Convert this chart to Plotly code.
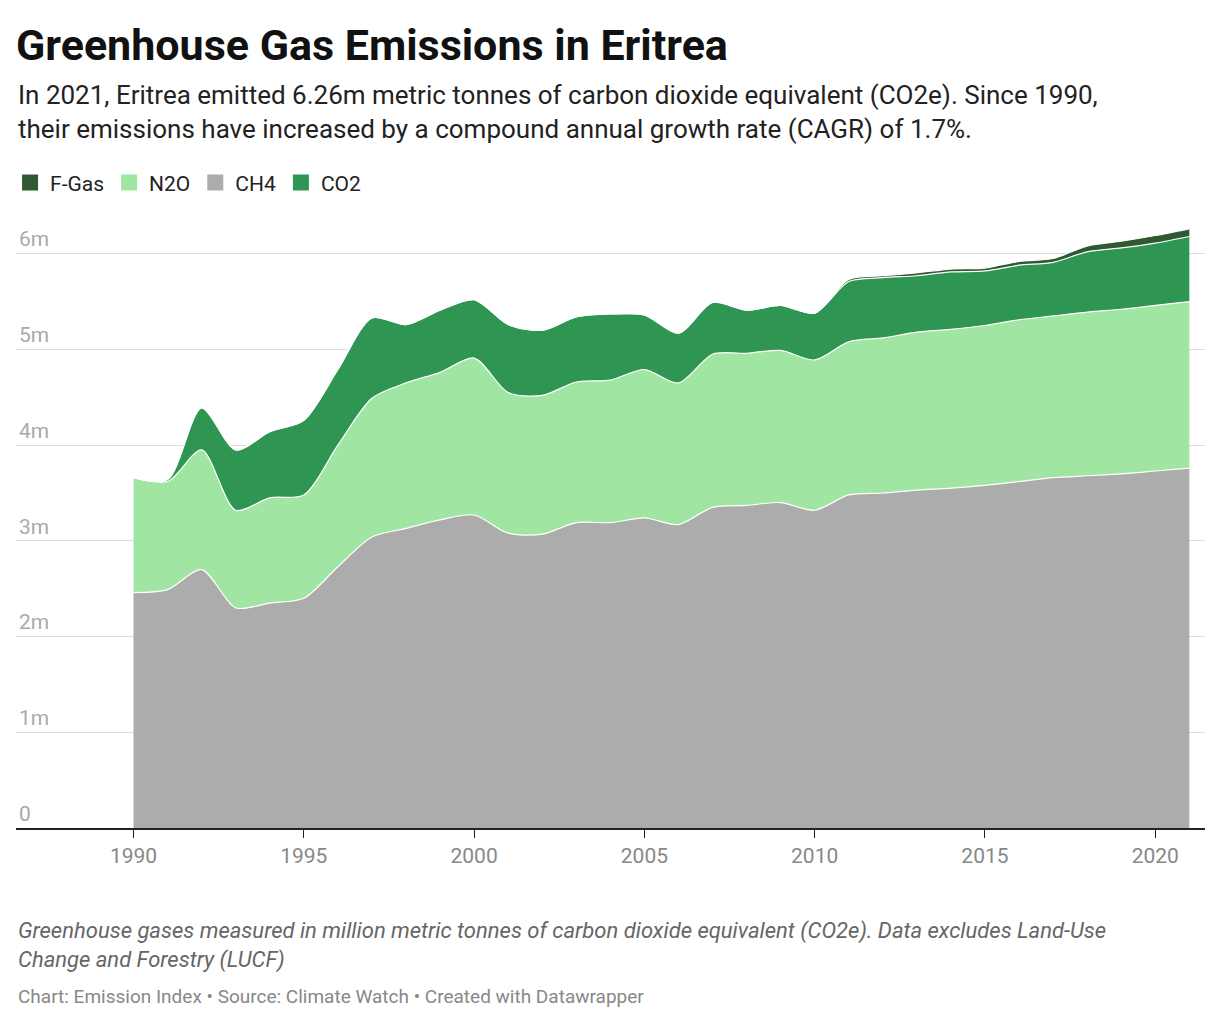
import plotly.graph_objects as go

years = list(range(1990, 2022))
ch4 = [2.46, 2.49, 2.70, 2.30, 2.35, 2.40, 2.73, 3.04, 3.13, 3.22, 3.27, 3.08, 3.07, 3.19, 3.19, 3.24,
       3.17, 3.35, 3.37, 3.40, 3.32, 3.48, 3.50, 3.53, 3.55, 3.58, 3.62, 3.66, 3.68, 3.70, 3.73, 3.76]
n2o = [1.20, 1.13, 1.25, 1.02, 1.10, 1.08, 1.27, 1.45, 1.52, 1.54, 1.64, 1.47, 1.45, 1.47, 1.49, 1.55,
       1.48, 1.60, 1.59, 1.59, 1.57, 1.60, 1.62, 1.65, 1.66, 1.67, 1.69, 1.69, 1.71, 1.72, 1.73, 1.74]
co2 = [0.00, 0.02, 0.44, 0.63, 0.69, 0.78, 0.79, 0.84, 0.61, 0.65, 0.61, 0.71, 0.68, 0.68, 0.69, 0.57,
       0.52, 0.54, 0.45, 0.47, 0.49, 0.63, 0.63, 0.59, 0.60, 0.57, 0.57, 0.56, 0.63, 0.64, 0.65, 0.68]
fgas = [0.0] * 21 + [0.02, 0.02, 0.03, 0.03, 0.03, 0.04, 0.04, 0.06, 0.07, 0.08, 0.08]

series = [
    ("CH4", ch4, "#acacac", 2),
    ("N2O", n2o, "#a0e6a2", 3),
    ("CO2", co2, "#2e9553", 1),
    ("F-Gas", fgas, "#2f5932", 4),
]

fig = go.Figure()
for name, vals, color, rank in series:
    fig.add_trace(go.Scatter(
        x=years, y=vals, name=name, stackgroup="one", mode="lines",
        line=dict(color="white", width=1.2, shape="spline", smoothing=0.8),
        fillcolor=color, showlegend=False,
    ))
# square legend swatches
for name, vals, color, rank in series:
    fig.add_trace(go.Scatter(
        x=[None], y=[None], name=name, mode="markers", legendrank=rank,
        marker=dict(symbol="square", size=26, color=color),
    ))

fig.update_layout(
    width=1220, height=1022,
    margin=dict(l=2, r=23, t=217, b=202),
    paper_bgcolor="white", plot_bgcolor="white",
    font=dict(family="Roboto", size=21, color="#333"),
    legend=dict(orientation="h", x=-0.005, xanchor="left", y=1.07, yanchor="middle",
                font=dict(size=21, color="#222"), itemwidth=30),
    xaxis=dict(range=[1986.55, 2021.46], tickvals=[1990, 1995, 2000, 2005, 2010, 2015, 2020],
               showgrid=False, showline=True, linecolor="#222", linewidth=1.5,
               ticks="outside", ticklen=8, tickcolor="#222",
               tickfont=dict(size=21, color="#888")),
    yaxis=dict(range=[0, 6.3], tickvals=[0, 1, 2, 3, 4, 5, 6],
               ticktext=["0", "1m", "2m", "3m", "4m", "5m", "6m"],
               ticklabelposition="inside top", gridcolor="#dddddd",
               zeroline=False, tickfont=dict(size=21, color="#aaa")),
    annotations=[
        dict(text="<b>Greenhouse Gas Emissions in Eritrea</b>", x=0, xref="paper", y=1, yref="paper",
             xanchor="left", yanchor="top", yshift=207, showarrow=False, xshift=-2,
             font=dict(size=43, color="#111")),
        dict(text="In 2021, Eritrea emitted 6.26m metric tonnes of carbon dioxide equivalent (CO2e). Since 1990,"
                  "<br>their emissions have increased by a compound annual growth rate (CAGR) of 1.7%.",
             x=0, xref="paper", y=1, yref="paper", xanchor="left", yanchor="top", yshift=147,
             showarrow=False, align="left", font=dict(size=26, color="#222")),
        dict(text="<i>Greenhouse gases measured in million metric tonnes of carbon dioxide equivalent (CO2e). Data excludes Land-Use"
                  "<br>Change and Forestry (LUCF)</i>",
             x=0, xref="paper", y=0, yref="paper", xanchor="left", yanchor="top", yshift=-88,
             showarrow=False, align="left", font=dict(size=22, color="#666")),
        dict(text="Chart: Emission Index • Source: Climate Watch • Created with Datawrapper",
             x=0, xref="paper", y=0, yref="paper", xanchor="left", yanchor="top", yshift=-155,
             showarrow=False, align="left", font=dict(size=19, color="#888")),
    ],
)

fig.write_html("out.html")
